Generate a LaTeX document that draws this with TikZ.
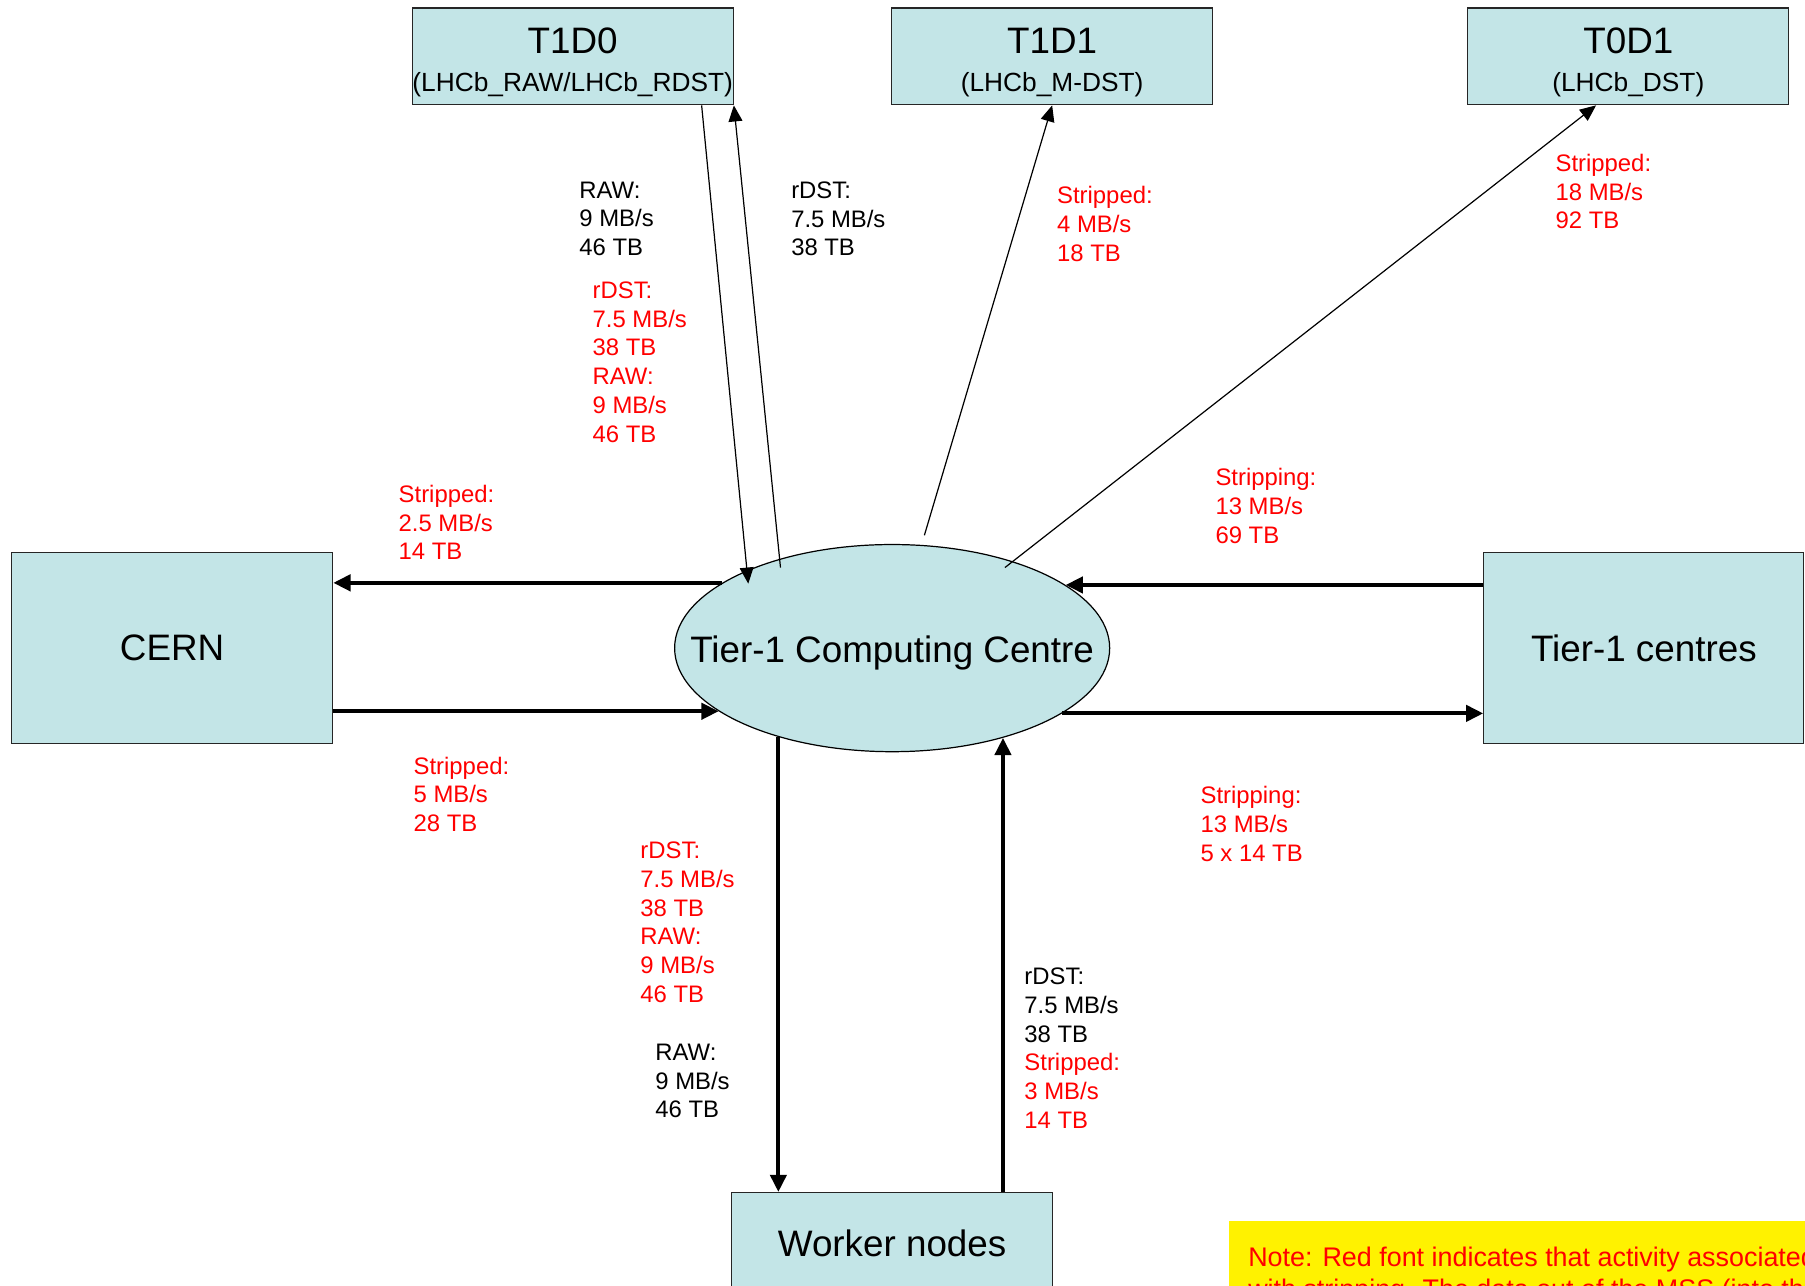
\documentclass[tikz,border=0pt]{standalone}
\usepackage{fontspec}
\setmainfont{Liberation Sans}
\usepackage{xcolor}
\usetikzlibrary{shapes,arrows.meta,positioning,calc}

\definecolor{boxblue}{RGB}{195,229,231}
\newcommand{\bigfont}{\fontsize{18.2}{21}\selectfont}
\newcommand{\subfont}{\fontsize{13}{15}\selectfont}
\newcommand{\ratefont}{\fontsize{11.8}{14.2}\selectfont}
\newcommand{\notefont}{\fontsize{13.3}{15.8}\selectfont}
\newcommand{\toppad}{\rule{0pt}{18.7pt}}

\tikzset{
  store/.style={draw=black!85, fill=boxblue, line width=0.6pt, inner sep=0pt,
    minimum width=5.58cm, minimum height=1.68cm, align=center, font=\bigfont},
  site/.style={store, minimum height=3.32cm},
  hub/.style={ellipse, draw, fill=boxblue, line width=0.6pt, inner sep=0pt,
    minimum width=7.56cm, minimum height=3.6cm},
  rate/.style={anchor=north west, inner sep=0pt, align=left, font=\ratefont},
  redrate/.style={rate, text=red},
  flow/.style={line width=2pt, -{Triangle[length=0.3cm,width=0.28cm]}},
  thinflow/.style={line width=0.6pt, -{Triangle[length=0.28cm,width=0.24cm]}},
}

\begin{document}
\begin{tikzpicture}[x=0.02cm,y=-0.02cm]
    \useasboundingbox (0,0) rectangle (1568,1117);
    \clip (0,0) rectangle (1568,1117);

    % Storage classes at the top
    \node[store] (t1d0) at (497.5,49) {\toppad T1D0\\[-2.5pt]{\subfont (LHCb\_RAW/LHCb\_RDST)}};
    \node[store] (t1d1) at (914,49) {\toppad T1D1\\[-2.5pt]{\subfont (LHCb\_M-DST)}};
    \node[store] (t0d1) at (1414.5,49) {\toppad T0D1\\[-2.5pt]{\subfont (LHCb\_DST)}};

    % Centres and worker nodes
    \node[site] (cern) at (149.5,563) {CERN};
    \node[site, minimum width=5.56cm] (others) at (1428,563) {Tier-1 centres};
    \node[store, minimum height=1.76cm] (wn) at (775,1080) {Worker nodes};
    \node[hub, label={[font=\bigfont, yshift=-0.08cm]center:Tier-1 Computing Centre}] (tc) at (775,563) {};

    % Thick flows
    \draw[flow] (tc.159.3) -- (tc.159.3 -| cern.east);
    \draw[flow] (tc.200.7 -| cern.east) -- (tc.200.7);
    \draw[flow] (tc.20.7 -| others.west) -- (tc.20.7);
    \draw[flow] (tc.339.3) -- (tc.339.3 -| others.west);
    \draw[flow] (tc.218.4) -- (tc.218.4 |- wn.north);
    \draw[flow] (tc.321.8 |- wn.north) -- (tc.321.8);

    % Thin flows to and from the storage classes
    \draw[thinflow] ($(t1d0.south east)+(-28,0)$) -- ($(tc.center)+(-125,-56)$);
    \draw[thinflow] ($(tc.center)+(-97,-70)$) -- (t1d0.south east);
    \draw[thinflow] ($(tc.center)+(28,-98)$) -- (t1d1.south);
    \draw[thinflow] ($(tc.center)+(98,-70)$) -- ($(t0d1.south)+(-28,0)$);

    % Rates and volumes
    \node[rate] (rawin) at (503,157.5) {RAW:\\9 MB/s\\46 TB};
    \node[rate] (rdstout) at (687,157.5) {rDST:\\7.5 MB/s\\38 TB};
    \node[redrate] (t1d0red) at (514.5,244.5) {rDST:\\7.5 MB/s\\38 TB\\RAW:\\9 MB/s\\46 TB};
    \node[redrate] (mdst) at (918,161.5) {Stripped:\\4 MB/s\\18 TB};
    \node[redrate] (dst) at (1351,133.5) {Stripped:\\18 MB/s\\92 TB};
    \node[redrate] (tocern) at (346,421) {Stripped:\\2.5 MB/s\\14 TB};
    \node[redrate] (fromothers) at (1055.6,406.5) {Stripping:\\13 MB/s\\69 TB};
    \node[redrate] (fromcern) at (359,657) {Stripped:\\5 MB/s\\28 TB};
    \node[redrate] (toothers) at (1042.6,683) {Stripping:\\13 MB/s\\5 x 14 TB};
    \node[redrate] (wnred) at (556,731) {rDST:\\7.5 MB/s\\38 TB\\RAW:\\9 MB/s\\46 TB};
    \node[rate] (wnraw) at (569,906.5) {RAW:\\9 MB/s\\46 TB};
    \node[rate] (wnout) at (889.6,840.5) {rDST:\\7.5 MB/s\\38 TB\\\textcolor{red}{Stripped:}\\
      \textcolor{red}{3 MB/s}\\\textcolor{red}{14 TB}};

    % Note
    \node[anchor=north west, fill=yellow, text=red, align=left, font=\notefont,
      inner xsep=0.34cm, inner ysep=0.46cm] (note) at (1067,1060)
      {Note: Red font indicates that activity associated\\with stripping. The data out of the MSS (into the};
\end{tikzpicture}
\end{document}
